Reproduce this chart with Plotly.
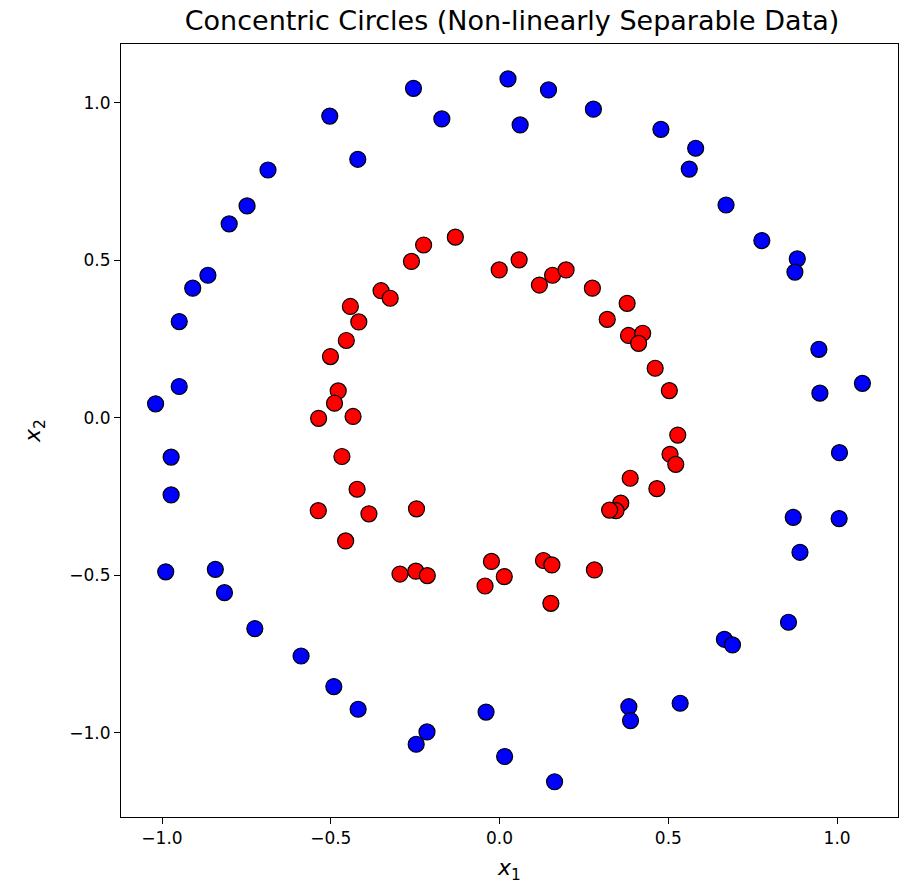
import plotly.graph_objects as go

# Outer circle (class 0, blue)
outer_x = [-0.255, 0.025, -0.503, -0.171, -0.420, -0.686, -0.748, -0.801, -0.864, -0.909,
           -0.949, -0.949, -1.019, 0.145, 0.061, 0.278, 0.478, 0.581, 0.562, 0.671,
           0.777, 0.882, 0.875, 0.946, 1.075, 0.949, -0.973, -0.973, -0.989, -0.842,
           -0.815, -0.725, -0.588, -0.491, -0.419, -0.215, -0.247, -0.040, 0.015, 1.007,
           0.870, 1.006, 0.890, 0.856, 0.666, 0.690, 0.535, 0.383, 0.388, 0.163]
outer_y = [1.045, 1.075, 0.957, 0.948, 0.820, 0.786, 0.672, 0.615, 0.452, 0.411,
           0.305, 0.099, 0.044, 1.040, 0.929, 0.979, 0.915, 0.855, 0.789, 0.675,
           0.562, 0.504, 0.462, 0.217, 0.109, 0.078, -0.125, -0.245, -0.489, -0.481,
           -0.555, -0.669, -0.756, -0.853, -0.925, -0.997, -1.036, -0.934, -1.075, -0.111,
           -0.316, -0.320, -0.427, -0.649, -0.703, -0.721, -0.906, -0.917, -0.961, -1.155]

# Inner circle (class 1, red)
inner_x = [-0.131, -0.225, -0.261, -0.001, -0.351, -0.324, -0.442, -0.417, -0.454, -0.501,
           -0.478, -0.489, -0.536, -0.434, 0.058, 0.118, 0.157, 0.197, 0.275, 0.378,
           0.319, 0.382, 0.424, 0.412, 0.461, 0.503, -0.467, -0.422, -0.537, -0.387,
           -0.246, -0.456, -0.295, -0.248, -0.214, -0.024, 0.014, -0.043, 0.528, 0.505,
           0.522, 0.387, 0.466, 0.359, 0.345, 0.326, 0.130, 0.155, 0.281, 0.152]
inner_y = [0.573, 0.548, 0.496, 0.469, 0.403, 0.379, 0.353, 0.304, 0.245, 0.194,
           0.085, 0.046, -0.002, 0.004, 0.501, 0.421, 0.452, 0.469, 0.411, 0.363,
           0.312, 0.261, 0.268, 0.236, 0.157, 0.086, -0.123, -0.227, -0.295, -0.305,
           -0.289, -0.391, -0.496, -0.487, -0.501, -0.456, -0.504, -0.534, -0.055, -0.116,
           -0.148, -0.192, -0.225, -0.271, -0.295, -0.293, -0.453, -0.467, -0.483, -0.589]

tick_vals = [-1.0, -0.5, 0.0, 0.5, 1.0]
tick_text = ["\u22121.0", "\u22120.5", "0.0", "0.5", "1.0"]

FONT = "DejaVu Sans"

fig = go.Figure()
fig.add_trace(go.Scatter(x=outer_x, y=outer_y, mode="markers",
                         marker=dict(color="blue", size=16, line=dict(color="black", width=1.2)),
                         showlegend=False))
fig.add_trace(go.Scatter(x=inner_x, y=inner_y, mode="markers",
                         marker=dict(color="red", size=16, line=dict(color="black", width=1.2)),
                         showlegend=False))

axis_common = dict(showgrid=False, zeroline=False, showline=True, linecolor="black", linewidth=1,
                   mirror=True, ticks="outside", ticklen=6, tickwidth=1, tickcolor="black",
                   tickvals=tick_vals, ticktext=tick_text,
                   tickfont=dict(family=FONT, size=17, color="black"))

fig.update_layout(
    width=903, height=894,
    margin=dict(l=121, r=5, t=44, b=77),
    paper_bgcolor="white", plot_bgcolor="white",
    title=dict(text="Concentric Circles (Non-linearly Separable Data)",
               x=512 / 903, xanchor="center", y=1 - 21 / 894, yanchor="middle",
               font=dict(family=FONT, size=27, color="black")),
    xaxis=dict(range=[-1.1215, 1.1804],
               title=dict(text="<i>x</i><sub>1</sub>", font=dict(family=FONT, size=22, color="black"), standoff=12),
               **axis_common),
    yaxis=dict(range=[-1.2669, 1.1858],
               title=dict(text="<i>x</i><sub>2</sub>", font=dict(family=FONT, size=22, color="black"), standoff=22),
               **axis_common),
)

fig.write_html("out.html")
